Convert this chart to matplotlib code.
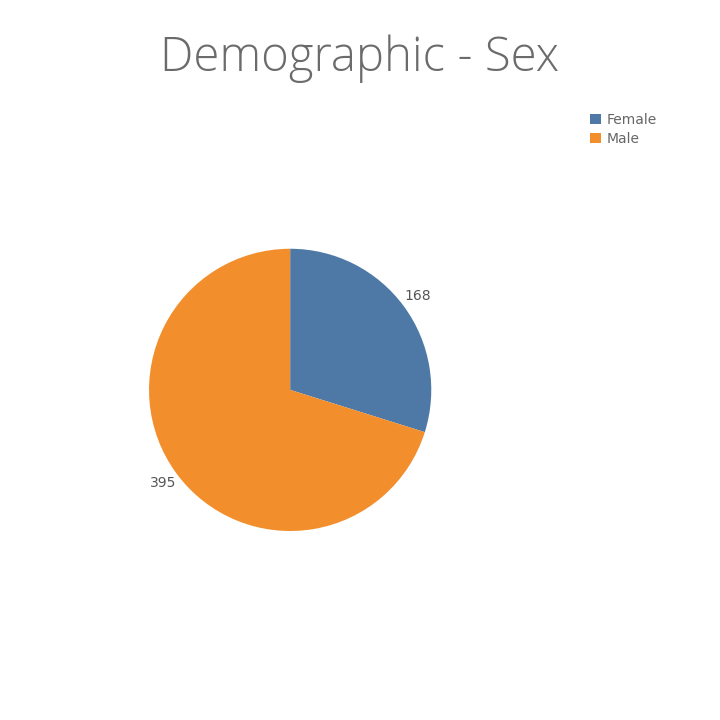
import matplotlib.pyplot as plt
from matplotlib.patches import Patch

labels = ['Female', 'Male']
counts = [168, 395]
colors = ['#4E79A7', '#F28E2B']

fig = plt.figure(figsize=(7.2, 7.2), dpi=100)
fig.patch.set_facecolor('white')

# pie axes: centre ~ (290, 390) px, radius ~141 px
ax = fig.add_axes([0.207, 0.2625, 0.392, 0.392])
wedges, texts = ax.pie(counts, colors=colors, startangle=90, counterclock=False,
                       labels=[str(c) for c in counts], labeldistance=1.12,
                       textprops={'color': '#555555', 'fontsize': 10},
                       wedgeprops={'linewidth': 0})
for t in texts:
    t.set_horizontalalignment('center')
    t.set_verticalalignment('center')
ax.set_xlim(-1, 1)
ax.set_ylim(-1, 1)
ax.set_aspect('equal')

fig.text(0.5, 0.918, 'Demographic - Sex', ha='center', va='center',
         fontsize=34, color='#6b6b6b', family=['Open Sans', 'DejaVu Sans'],
         fontweight='light')

handles = [Patch(facecolor=c, edgecolor='none') for c in colors]
fig.legend(handles, labels, loc='upper left', bbox_to_anchor=(0.812, 0.851),
           frameon=False, fontsize=10, labelcolor='#666666',
           handlelength=0.8, handleheight=0.8, handletextpad=0.4,
           labelspacing=0.35, borderaxespad=0)

plt.savefig('out.png', dpi=100)
